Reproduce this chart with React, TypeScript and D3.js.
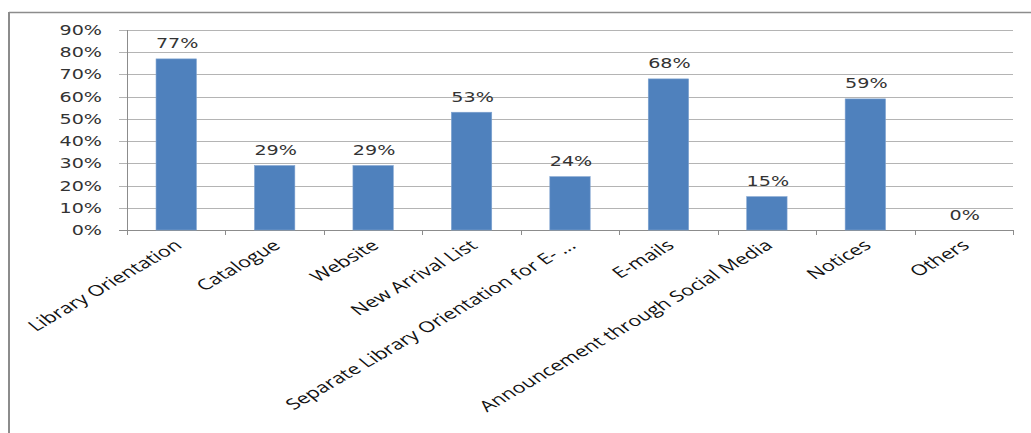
import React from "react";
import * as d3 from "d3";

const categories = [
  "Library Orientation",
  "Catalogue",
  "Website",
  "New Arrival List",
  "Separate Library Orientation for E- ...",
  "E-mails",
  "Announcement through Social Media",
  "Notices",
  "Others",
];
const values = [77, 29, 29, 53, 24, 68, 15, 59, 0];
const yTicks = [0, 10, 20, 30, 40, 50, 60, 70, 80, 90];

const W = 1031;
const H = 433;
const plot = { left: 127, right: 1013, top: 30, bottom: 230 };
const SX = 1.44;

export default function App() {
  const x = d3
    .scaleBand<string>()
    .domain(categories)
    .range([plot.left, plot.right])
    .paddingInner(0.59)
    .paddingOuter(0.295);
  const y = d3.scaleLinear().domain([0, 90]).range([plot.bottom, plot.top]);
  const step = (plot.right - plot.left) / categories.length;

  return (
    <svg
      width={W}
      height={H}
      style={{ position: "absolute", left: 0, top: 0, background: "#fff" }}
    >
      {/* outer border */}
      <line x1={9} y1={12.5} x2={W} y2={12.5} stroke="#8c8c8c" strokeWidth={1.5} />
      <line x1={9} y1={12} x2={9} y2={H} stroke="#8c8c8c" strokeWidth={2} />

      {/* gridlines + y ticks */}
      {yTicks.map((t) => (
        <g key={t}>
          <line
            x1={plot.left - 8}
            x2={plot.right}
            y1={Math.round(y(t)) + 0.5}
            y2={Math.round(y(t)) + 0.5}
            stroke={t === 0 ? "#8c8c8c" : "#b4b4b4"}
            strokeWidth={1}
          />
          <text
            transform={`translate(102, ${y(t) + 5}) scale(${SX},1)`}
            textAnchor="end"
            fontFamily="DejaVu Sans, Verdana, sans-serif"
            fontSize={13.3}
            fill="#333"
          >
            {t}%
          </text>
        </g>
      ))}

      {/* y axis */}
      <line
        x1={plot.left + 0.5}
        x2={plot.left + 0.5}
        y1={plot.top}
        y2={plot.bottom + 5}
        stroke="#8c8c8c"
      />
      {/* x ticks */}
      {d3.range(categories.length + 1).map((i) => (
        <line
          key={i}
          x1={Math.round(plot.left + i * step) + 0.5}
          x2={Math.round(plot.left + i * step) + 0.5}
          y1={plot.bottom}
          y2={plot.bottom + 5}
          stroke="#8c8c8c"
        />
      ))}

      {/* bars */}
      {categories.map((c, i) => (
        <rect
          key={c}
          x={x(c)}
          y={y(values[i])}
          width={x.bandwidth()}
          height={plot.bottom - y(values[i])}
          fill="#4f81bd"
          stroke="#7fa3d0"
          strokeWidth={0.6}
        />
      ))}

      {/* data labels */}
      {categories.map((c, i) => (
        <text
          key={c}
          transform={`translate(${(x(c) as number) + x.bandwidth() / 2 + 1}, ${
            y(values[i]) - 10.5
          }) scale(${SX},1)`}
          textAnchor="middle"
          fontFamily="DejaVu Sans, Verdana, sans-serif"
          fontSize={13.3}
          fill="#333"
        >
          {values[i]}%
        </text>
      ))}

      {/* category labels */}
      {categories.map((c) => (
        <text
          key={c}
          transform={`translate(${(x(c) as number) + x.bandwidth() / 2 + 7}, 247) scale(${SX},1) rotate(-39.7)`}
          textAnchor="end"
          fontFamily="Open Sans, sans-serif"
          fontSize={15}
          fill="#111"
        >
          {c}
        </text>
      ))}
    </svg>
  );
}
